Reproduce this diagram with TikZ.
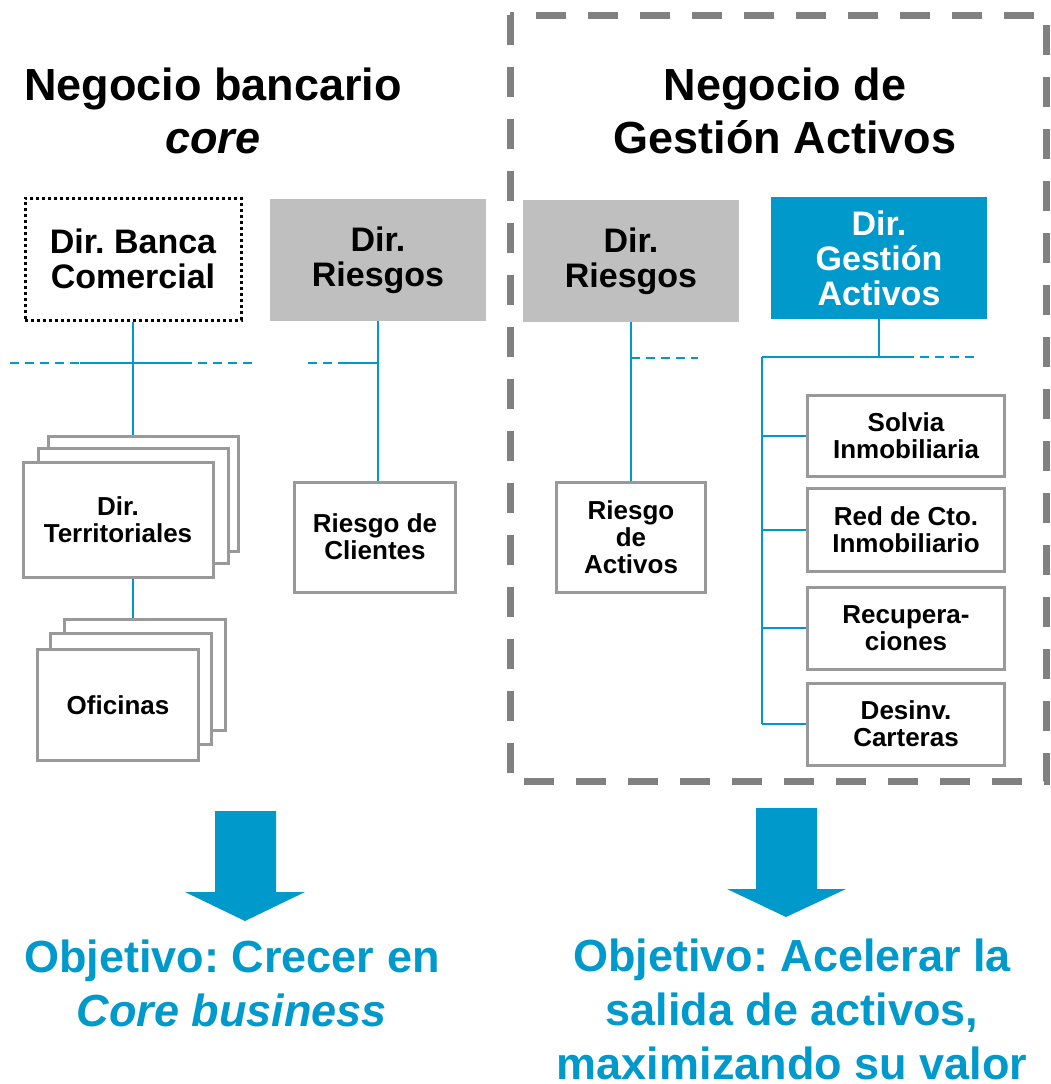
\documentclass[tikz,border=0pt]{standalone}
\usepackage{fontspec}
\setmainfont{Liberation Sans}
\frenchspacing
\definecolor{azul}{HTML}{0099CC}
\definecolor{grisclaro}{HTML}{BFBFBF}
\definecolor{grisborde}{HTML}{999999}
\definecolor{grisoscuro}{HTML}{808080}
\begin{document}
\begin{tikzpicture}[x=1pt, y=-1pt,
    titulo/.style={align=center, font=\fontsize{45}{53}\selectfont\bfseries},
    objetivo/.style={align=center, text=azul, font=\fontsize{45}{54}\selectfont\bfseries},
    dirbox/.style={minimum width=216pt, minimum height=122pt, align=center,
      font=\fontsize{34}{35}\selectfont\bfseries},
    dirgris/.style={dirbox, fill=grisclaro},
    dirazul/.style={dirbox, fill=azul, text=white},
    dirpunt/.style={dirbox, draw=black, line width=3pt, dash pattern=on 3pt off 3pt},
    caja/.style={draw=grisborde, line width=3pt, fill=white, align=center,
      font=\fontsize{26}{27}\selectfont\bfseries},
    enlace/.style={draw=azul, line width=2.5pt},
    enlacep/.style={enlace, dash pattern=on 9pt off 6pt},
    marco/.style={draw=grisoscuro, line width=7pt, dash pattern=on 30pt off 22pt},
    flecha/.style={fill=azul}
  ]
    \useasboundingbox (0,0) rectangle (1050,1084);
    % Marco del negocio de gestión de activos
    \draw[marco] (510,15) rectangle (1046,781);
    % Títulos
    \node[titulo] (tcore) at (213,111) {Negocio bancario\\\textit{core}};
    \node[titulo] (tga) at (785,111) {Negocio de\\Gestión Activos};
    % Negocio bancario core
    \begin{scope}
      \node[dirpunt] (bc) at (133,259) {Dir. Banca\\Comercial};
      \node[dirgris] (rg1) at (378,260) {Dir.\\Riesgos};
      \node[caja, minimum width=190pt, minimum height=115pt] (terr3) at (143,494) {};
      \node[caja, minimum width=190pt, minimum height=115pt] (terr2) at (133,506) {};
      \node[caja, minimum width=190pt, minimum height=115pt] (terr1) at (118,520) {Dir.\\Territoriales};
      \node[caja, minimum width=161pt, minimum height=111pt] (ofi3) at (145,675) {};
      \node[caja, minimum width=161pt, minimum height=111pt] (ofi2) at (131,689) {};
      \node[caja, minimum width=161pt, minimum height=111pt] (ofi1) at (118,705) {Oficinas};
      \node[caja, minimum width=161pt, minimum height=110pt] (rc) at (375,537) {Riesgo de\\Clientes};
      \coordinate (l1) at (10,363);
      \coordinate (l2) at (80,363);
      \coordinate (l3) at (183,363);
      \coordinate (l4) at (252,363);
      \coordinate (r1) at (308,363);
      \coordinate (r2) at (338,363);
      \draw[enlace] (bc.south) -- (bc.south |- terr3.north);
      \draw[enlace] (bc.south |- terr1.south) -- (bc.south |- ofi3.north);
      \draw[enlacep] (l1) -- (l2);
      \draw[enlace] (l2) -- (l3);
      \draw[enlacep] (l3) -- (l4);
      \draw[enlace] (rg1.south) -- (rg1.south |- rc.north);
      \draw[enlacep] (r1) -- (r2);
      \draw[enlace] (r2) -- (r2 -| rg1.south);
    \end{scope}
    % Negocio de gestión de activos
    \begin{scope}
      \node[dirgris] (rg2) at (631,261) {Dir.\\Riesgos};
      \node[dirazul] (ga) at (879,258) {Dir.\\Gestión\\Activos};
      \node[caja, minimum width=149pt, minimum height=110pt] (ra) at (631,537) {Riesgo\\de\\Activos};
      \node[caja, minimum width=197pt, minimum height=81pt] (sol) at (906,436) {Solvia\\Inmobiliaria};
      \node[caja, minimum width=197pt, minimum height=83pt] (red) at (906,530) {Red de Cto.\\Inmobiliario};
      \node[caja, minimum width=197pt, minimum height=82pt] (rec) at (906,628) {Recupera-\\ciones};
      \node[caja, minimum width=197pt, minimum height=82pt] (des) at (906,724) {Desinv.\\Carteras};
      \coordinate (a1) at (698,358);
      \coordinate (g0) at (762,357);
      \coordinate (g1) at (905,357);
      \coordinate (g2) at (978,357);
      \draw[enlace] (rg2.south) -- (rg2.south |- ra.north);
      \draw[enlacep] (rg2.south |- a1) -- (a1);
      \draw[enlace] (ga.south) -- (ga.south |- g0);
      \draw[enlace] (g0) -- (g1);
      \draw[enlacep] (g1) -- (g2);
      \draw[enlace] (g0) -- (g0 |- des.west);
      \foreach \b in {sol,red,rec,des} {
        \draw[enlace] (g0 |- \b.west) -- (\b.west);
      }
    \end{scope}
    % Flechas y objetivos
    \fill[flecha] (215,811) -- (276,811) -- (276,892) -- (305,892) -- (245,921)
      -- (185,892) -- (215,892) -- cycle;
    \fill[flecha] (756,808) -- (817,808) -- (817,889) -- (846,889) -- (786,917)
      -- (727,889) -- (756,889) -- cycle;
    \node[objetivo] (obj1) at (232,983) {Objetivo: Crecer en\\\textit{Core business}};
    \node[objetivo] (obj2) at (792,1009) {Objetivo: Acelerar la\\salida de activos,\\maximizando su valor};
  \end{tikzpicture}
\end{document}
